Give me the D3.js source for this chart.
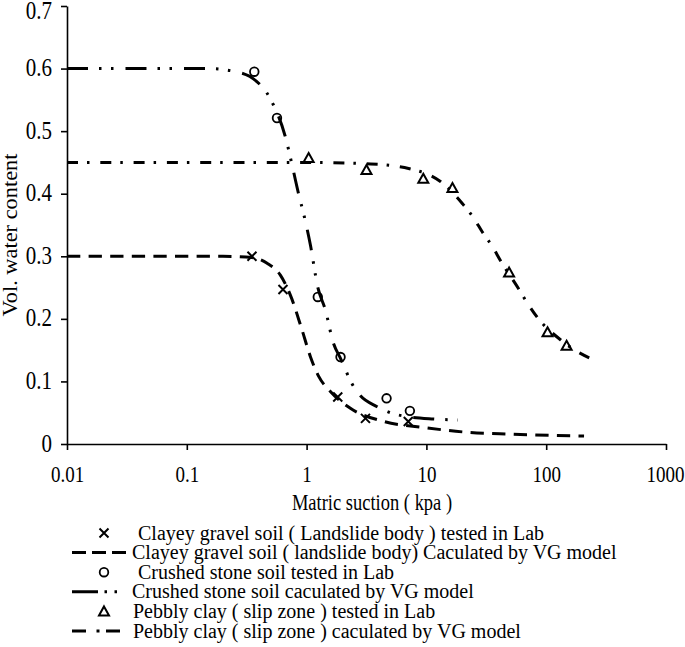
<!DOCTYPE html>
<html>
<head>
<meta charset="utf-8">
<script src="https://cdn.jsdelivr.net/npm/d3@7"></script>
<style>
html,body{margin:0;padding:0;background:#fff;}
svg text{font-family:"Liberation Serif","Times New Roman",serif;fill:#000;}
</style>
</head>
<body>
<svg id="chart" width="685" height="647"></svg>
<script>
// ---- data ----
const xTicks = [0.01, 0.1, 1, 10, 100, 1000];
const xTickLabels = ["0.01", "0.1", "1", "10", "100", "1000"];
const yTicks = [0, 0.1, 0.2, 0.3, 0.4, 0.5, 0.6, 0.7];
const yTickLabels = ["0", "0.1", "0.2", "0.3", "0.4", "0.5", "0.6", "0.7"];

// Clayey gravel soil (landslide body) – lab points
const clayeyLab = [[0.35,0.300],[0.635,0.247],[1.82,0.075],[3.10,0.041],[7.06,0.036]];
// Clayey gravel soil – VG model curve
const clayeyVG = [[0.01,0.300],[0.2,0.300],[0.35,0.298],[0.468,0.289],[0.604,0.270],[0.732,0.238],
  [0.917,0.182],[1.076,0.1395],[1.262,0.108],[1.58,0.084],[2.32,0.057],[4.41,0.036],[9.5,0.0264],
  [22,0.0187],[50.6,0.0157],[116,0.0136],[207,0.0128]];

// Crushed stone soil – lab points
const crushedLab = [[0.366,0.595],[0.566,0.521],[1.24,0.235],[1.92,0.139],[4.65,0.073],[7.28,0.053]];
// Crushed stone soil – VG model curve
const crushedVG = [[0.01,0.600],[0.15,0.600],[0.289,0.5925],[0.398,0.5765],[0.468,0.5605],[0.525,0.543],
  [0.665,0.491],[0.746,0.451],[0.854,0.401],[0.958,0.363],[1.076,0.318],[1.238,0.251],[1.436,0.214],
  [1.675,0.161],[1.918,0.137],[2.40,0.096],[2.73,0.080],[3.88,0.0596],[5.86,0.0463],[11.5,0.040],[18.2,0.0384]];

// Pebbly clay (slip zone) – lab points
const pebblyLab = [[1.04,0.457],[3.16,0.438],[9.42,0.424],[16.5,0.409],[49,0.274],[102.6,0.1785],[148,0.157]];
// Pebbly clay – VG model curve
const pebblyVG = [[0.01,0.450],[1,0.450],[3.42,0.4475],[5.19,0.4448],[7.10,0.4403],[13.1,0.4195],[20.1,0.3836],
  [24.9,0.3607],[29.3,0.3388],[35.6,0.3153],[41.7,0.2925],[59.0,0.2477],[69.8,0.2249],[84.5,0.2022],
  [132.4,0.1662],[176.6,0.1491],[260,0.1331]];

const legendLabels = [
  "Clayey gravel soil ( Landslide body ) tested in Lab",
  "Clayey gravel soil ( landslide body) Caculated by VG model",
  "Crushed stone soil tested in Lab",
  "Crushed stone soil caculated by VG model",
  "Pebbly clay ( slip zone )  tested in Lab",
  "Pebbly clay ( slip zone ) caculated by VG model"
];

// ---- drawing ----
const svg = d3.select("#chart");
svg.append("rect").attr("width",685).attr("height",647).attr("fill","#fff");

const x = d3.scaleLog().domain([0.01, 1000]).range([67, 666]);
const y = d3.scaleLinear().domain([0, 0.7]).range([444, 6]);

const dashClayey = "13.3,8.3";
const dashCrushed = "21,11,2.5,9.5,2.5,12";
const dashPebbly = "11,9,2.5,10.8";
const STRETCH = 1.22;   // the reference's axis lettering is taller than it is wide

// axes
const xAxis = d3.axisBottom(x).tickValues(xTicks).tickFormat((d,i)=>xTickLabels[i]).tickSize(6).tickSizeOuter(0);
const gx = svg.append("g").attr("transform","translate(0,444)").call(xAxis);
const yAxis = d3.axisLeft(y).tickValues(yTicks).tickFormat((d,i)=>yTickLabels[i]).tickSize(6).tickSizeOuter(0);
const gy = svg.append("g").attr("transform","translate(67,0)").call(yAxis);
[gx,gy].forEach(g=>{
  g.selectAll("path.domain").attr("stroke","#000").attr("stroke-width",1.6);
  g.selectAll(".tick line").attr("stroke","#000").attr("stroke-width",1.6);
  g.selectAll(".tick text").attr("font-family","Liberation Serif").attr("fill","#000");
});
gx.selectAll(".tick text").attr("font-size",19).attr("dy",null)
  .attr("y", 38/STRETCH).attr("transform",`scale(1,${STRETCH})`);
gx.selectAll(".tick text").filter((d,i)=>i===xTicks.length-1).attr("text-anchor","end").attr("x",18);
gy.selectAll(".tick text").attr("font-size",21).attr("dy",null).attr("x",-15)
  .attr("y", 7/STRETCH).attr("transform",`scale(1,${STRETCH})`);
gy.selectAll(".tick text").filter((d,i)=>i===yTicks.length-1).attr("y", 12/STRETCH);

svg.append("text").attr("transform",`translate(372,510) scale(1,${STRETCH})`).attr("text-anchor","middle")
  .attr("font-size",18.5).text("Matric suction ( kpa )");
svg.append("text").attr("transform","translate(17,235) rotate(-90) scale(1.12,1)").attr("text-anchor","middle")
  .attr("font-size",20).text("Vol. water content");

// curves
const line = d3.line().x(d=>x(d[0])).y(d=>y(d[1])).curve(d3.curveMonotoneX);
function drawCurve(data, dash){
  svg.append("path").datum(data).attr("d",line).attr("fill","none")
    .attr("stroke","#000").attr("stroke-width",3).attr("stroke-dasharray",dash);
}
drawCurve(clayeyVG, dashClayey);
drawCurve(pebblyVG, dashPebbly);
drawCurve(crushedVG, dashCrushed);

// markers
function cross(g, cx, cy){
  const s=4.5;
  g.append("path").attr("d",`M${cx-s},${cy-s}L${cx+s},${cy+s}M${cx-s},${cy+s}L${cx+s},${cy-s}`)
    .attr("stroke","#000").attr("stroke-width",2).attr("fill","none");
}
function circle(g, cx, cy){
  g.append("circle").attr("cx",cx).attr("cy",cy).attr("r",4.3)
    .attr("stroke","#000").attr("stroke-width",1.8).attr("fill","none");
}
function tri(g, cx, cy){
  const s=5;
  g.append("path").attr("d",`M${cx},${cy-s}L${cx+s},${cy+s*0.8}L${cx-s},${cy+s*0.8}Z`)
    .attr("stroke","#000").attr("stroke-width",2).attr("fill","none");
}
const mk = svg.append("g");
clayeyLab.forEach(d=>cross(mk, x(d[0]), y(d[1])));
crushedLab.forEach(d=>circle(mk, x(d[0]), y(d[1])));
pebblyLab.forEach(d=>tri(mk, x(d[0]), y(d[1])));

// legend
const lg = svg.append("g");
const rowY = i => 533 + i*19.6;
const markerFns = [cross, null, circle, null, tri, null];
const legDash = [null, "14,6", null, "26,6.5,2.5,7.5,2.5,40", null, "14,10.5,3,6.5,14,40"];
const legEnd = [0, 126, 0, 120, 0, 120];
const textX = [138, 132, 138, 132, 133, 133];
legendLabels.forEach((lab,i)=>{
  const cy = rowY(i);
  if(markerFns[i]) markerFns[i](lg, 104, cy);
  else lg.append("line").attr("x1",72).attr("x2",legEnd[i]).attr("y1",cy).attr("y2",cy)
    .attr("stroke","#000").attr("stroke-width",3).attr("stroke-dasharray",legDash[i]);
  lg.append("text").attr("x",textX[i]).attr("y",cy+6.5).attr("font-size",20).text(lab);
});
</script>
</body>
</html>
